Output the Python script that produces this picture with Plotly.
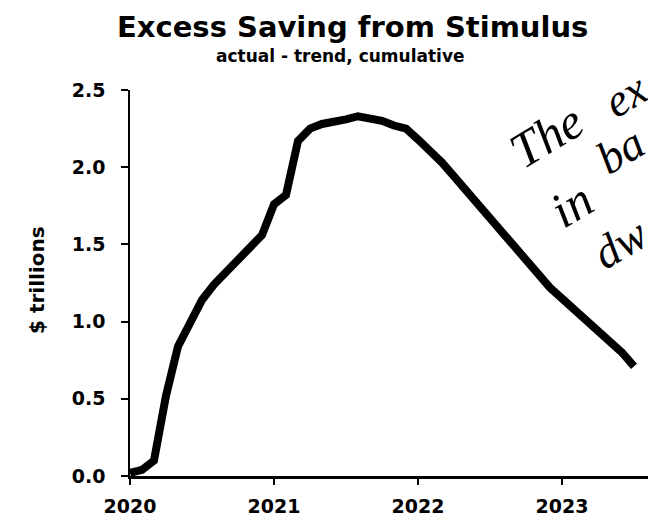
import plotly.graph_objects as go

# Monthly data, Jan 2020 .. Jul 2023 (x = year + month/12)
years = [2020 + m / 12 for m in range(43)]
excess_saving = [
    0.02, 0.04, 0.10, 0.52, 0.84, 1.00, 1.14, 1.24, 1.32, 1.40, 1.47, 1.56,   # 2020
    1.76, 1.82, 2.17, 2.25, 2.28, 2.29, 2.31, 2.33, 2.32, 2.30, 2.27, 2.25,   # 2021
    2.18, 2.11, 2.03, 1.94, 1.85, 1.76, 1.67, 1.58, 1.48, 1.39, 1.30, 1.22,   # 2022
    1.15, 1.08, 1.01, 0.95, 0.88, 0.80, 0.71,                                 # 2023
]
x_ticks = [2020, 2021, 2022, 2023]
x_tick_labels = ["2020", "2021", "2022", "2023"]
y_ticks = [0.0, 0.5, 1.0, 1.5, 2.0, 2.5]

title_text = "Excess Saving from Stimulus"
subtitle_text = "actual - trend, cumulative"
y_title = "$ trillions"
handwriting = ["The", "ex", "in", "ba", "dw"]

W, H = 656, 522
OFF = 8  # page body margin offset
# target plot area in window pixels: x 130..664, y 90..476
L, T = 130 - OFF, 90 - OFF
B = H - (476 - OFF)
R = 0
pw, ph = W - L - R, H - T - B


def px(x):
    return (x - OFF - L) / pw


def py(y):
    return (H - B - (y - OFF)) / ph


fig = go.Figure()
fig.add_trace(go.Scatter(
    x=years, y=excess_saving, mode="lines",
    line=dict(color="black", width=8, shape="linear"),
    cliponaxis=False, hoverinfo="skip", showlegend=False,
))

bold = dict(family="DejaVu Sans", color="black", weight="bold")

fig.update_layout(
    width=W, height=H,
    margin=dict(l=L, r=R, t=T, b=B),
    paper_bgcolor="white", plot_bgcolor="white",
    showlegend=False,
    xaxis=dict(
        range=[2020, 2020 + pw / 144.0],
        tickvals=x_ticks, ticktext=x_tick_labels,
        showline=True, linecolor="black", linewidth=2.5,
        ticks="outside", ticklen=6, tickwidth=2, tickcolor="black",
        showgrid=False, zeroline=False,
        tickfont=dict(size=19, **bold),
        ticklabelstandoff=5,
    ),
    yaxis=dict(
        range=[0, 2.5],
        tickvals=y_ticks, tickformat=".1f",
        showline=True, linecolor="black", linewidth=1.5,
        ticks="outside", ticklen=7, tickwidth=2, tickcolor="black",
        showgrid=False, zeroline=False,
        tickfont=dict(size=19, **bold),
        ticklabelstandoff=12,
    ),
)

annotations = [
    dict(text=title_text, x=px(352), y=py(27), font=dict(size=29, **bold)),
    dict(text=subtitle_text, x=px(340), y=py(56), font=dict(size=17, **bold)),
    dict(text=y_title, x=px(37), y=py(280), textangle=-90, font=dict(size=20, **bold)),
]
hand_pos = [(546, 136), (625, 95), (571, 205), (620, 150), (620, 243)]
hand_size = [50, 46, 50, 46, 46]
for word, (hx, hy), sz in zip(handwriting, hand_pos, hand_size):
    annotations.append(dict(
        text=word, x=px(hx), y=py(hy), textangle=-31,
        font=dict(family="Liberation Serif", size=sz, color="black", style="italic"),
    ))
for a in annotations:
    a.update(xref="paper", yref="paper", showarrow=False,
             xanchor="center", yanchor="middle")
fig.update_layout(annotations=annotations)

fig.write_html("out.html")
